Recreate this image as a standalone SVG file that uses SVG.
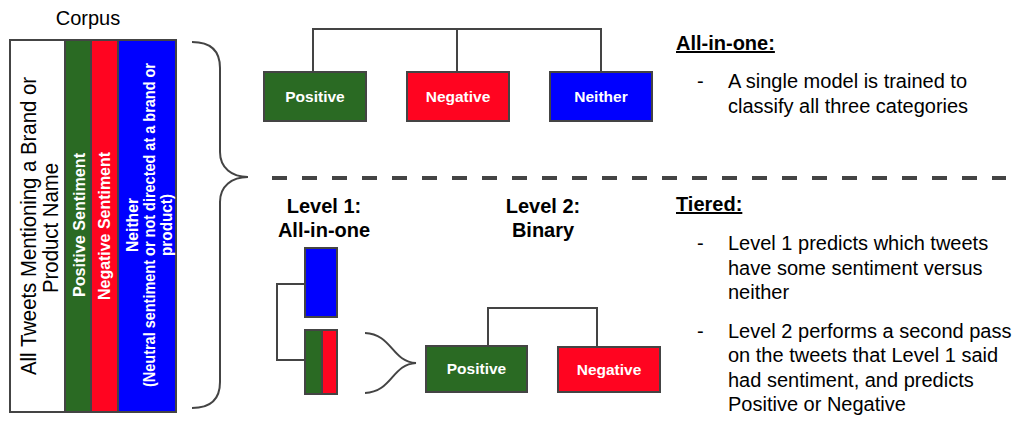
<svg xmlns="http://www.w3.org/2000/svg" width="1032" height="429" viewBox="0 0 1032 429">
<style>
.t{font-family:"Liberation Sans",Arial,sans-serif;fill:#000}
.b{font-weight:bold}
.w{fill:#fff;font-family:"Liberation Sans",Arial,sans-serif;font-weight:bold}
.box{stroke:#444;stroke-width:2}
.ln{fill:none;stroke:#444;stroke-width:2}
.g{fill:#2a6a23}.r{fill:#ff0420}.bl{fill:#0000ff}
</style>
<rect width="1032" height="429" fill="#fff"/>
<g id="corpus">
<text class="t" x="88" y="25" font-size="20" text-anchor="middle">Corpus</text>
<rect x="10" y="40" width="55" height="372" fill="#fff" class="box"/>
<rect x="65" y="40" width="26" height="372" class="box g"/>
<rect x="91" y="40" width="27" height="372" class="box r"/>
<rect x="118" y="40" width="58" height="372" class="box bl"/>
<text class="t" font-size="21.5" text-anchor="middle" textLength="298" lengthAdjust="spacingAndGlyphs" transform="translate(36,226) rotate(-90)">All Tweets Mentioning a Brand or</text>
<text class="t" font-size="21.5" text-anchor="middle" textLength="130" lengthAdjust="spacingAndGlyphs" transform="translate(58,228) rotate(-90)">Product Name</text>
<text class="w" font-size="16.5" text-anchor="middle" textLength="144" lengthAdjust="spacingAndGlyphs" transform="translate(84.5,225) rotate(-90)">Positive Sentiment</text>
<text class="w" font-size="16.5" text-anchor="middle" textLength="148" lengthAdjust="spacingAndGlyphs" transform="translate(110,226) rotate(-90)">Negative Sentiment</text>
<text class="w" font-size="16" text-anchor="middle" textLength="54" lengthAdjust="spacingAndGlyphs" transform="translate(137.5,225) rotate(-90)">Neither</text>
<text class="w" font-size="16" text-anchor="middle" textLength="324" lengthAdjust="spacingAndGlyphs" transform="translate(154.5,225) rotate(-90)">(Neutral sentiment or not directed at a brand or</text>
<text class="w" font-size="16" text-anchor="middle" textLength="62" lengthAdjust="spacingAndGlyphs" transform="translate(171.5,225) rotate(-90)">product)</text>
</g>
<g id="connectors">
<path class="ln" d="M192,42 C210,42 220,50 220,68 V152 C220,168 232,177 248,177 C232,177 220,186 220,202 V382 C220,400 210,408 192,408"/>
<line x1="272" y1="178" x2="1006" y2="178" stroke="#444" stroke-width="4" stroke-dasharray="15 15"/>
<path class="ln" d="M313,72 V29 H601 V72 M457,29 V72"/>
<path class="ln" d="M305,284 H277 V360 H305"/>
<path class="ln" d="M365,333 C392,334 392,362 416,363 C392,364 392,392 365,393"/>
<path class="ln" d="M488,346 V308 H597 V347"/>
</g>
<g id="top-positive">
<rect x="264" y="72" width="102" height="49" class="box g"/>
<text class="w" x="315" y="102" font-size="15.5" text-anchor="middle">Positive</text>
</g>
<g id="top-negative">
<rect x="407" y="72" width="102" height="49" class="box r"/>
<text class="w" x="458" y="102" font-size="15.5" text-anchor="middle">Negative</text>
</g>
<g id="top-neither">
<rect x="550" y="72" width="102" height="49" class="box bl"/>
<text class="w" x="601" y="102" font-size="15.5" text-anchor="middle">Neither</text>
</g>
<g id="level-labels">
<text class="t b" x="324" y="213" font-size="20" text-anchor="middle">Level 1:</text>
<text class="t b" x="324" y="237" font-size="20" text-anchor="middle">All-in-one</text>
<text class="t b" x="543" y="213" font-size="20" text-anchor="middle">Level 2:</text>
<text class="t b" x="543" y="237" font-size="20" text-anchor="middle">Binary</text>
</g>
<g id="l1-neither">
<rect x="305" y="248" width="32" height="69" class="box bl"/>
</g>
<g id="l1-sentiment">
<rect x="305" y="330" width="17" height="64" class="box g"/>
<rect x="322" y="330" width="15" height="64" class="box r"/>
</g>
<g id="l2-positive">
<rect x="426" y="346" width="101" height="46" class="box g"/>
<text class="w" x="476.5" y="374" font-size="15.5" text-anchor="middle">Positive</text>
</g>
<g id="l2-negative">
<rect x="558" y="347" width="102" height="45" class="box r"/>
<text class="w" x="609" y="375" font-size="15.5" text-anchor="middle">Negative</text>
</g>
<g id="notes">
<text class="t b" x="676" y="50" font-size="20" text-decoration="underline">All-in-one:</text>
<text class="t" x="697" y="88" font-size="20">-</text>
<text class="t" x="728" y="88" font-size="20">A single model is trained to</text>
<text class="t" x="728" y="113" font-size="20">classify all three categories</text>
<text class="t b" x="676" y="211" font-size="20" text-decoration="underline">Tiered:</text>
<text class="t" x="697" y="250" font-size="20">-</text>
<text class="t" x="728" y="250" font-size="20">Level 1 predicts which tweets</text>
<text class="t" x="728" y="275" font-size="20">have some sentiment versus</text>
<text class="t" x="728" y="299" font-size="20">neither</text>
<text class="t" x="697" y="338" font-size="20">-</text>
<text class="t" x="728" y="338" font-size="20">Level 2 performs a second pass</text>
<text class="t" x="728" y="362" font-size="20">on the tweets that Level 1 said</text>
<text class="t" x="728" y="387" font-size="20">had sentiment, and predicts</text>
<text class="t" x="728" y="411" font-size="20">Positive or Negative</text>
</g>
</svg>
